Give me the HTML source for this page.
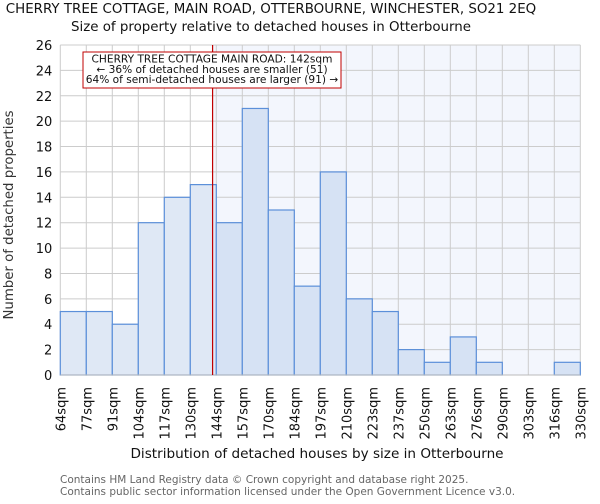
<!DOCTYPE html>
<html><head><meta charset="utf-8"><style>
body{margin:0;background:#fff;font-family:"DejaVu Sans","Liberation Sans",sans-serif}
</style></head><body>
<svg id="c" width="600" height="500" xmlns="http://www.w3.org/2000/svg" font-family="DejaVu Sans, Liberation Sans, sans-serif">
<text x="271" y="13" text-anchor="middle" font-size="13.4" fill="#111">CHERRY TREE COTTAGE, MAIN ROAD, OTTERBOURNE, WINCHESTER, SO21 2EQ</text>
<text x="271" y="31" text-anchor="middle" font-size="13.4" fill="#111">Size of property relative to detached houses in Otterbourne</text>
<g id="plot"></g>
<text x="317" y="458" text-anchor="middle" font-size="13.6" fill="#111">Distribution of detached houses by size in Otterbourne</text>
<text transform="translate(13,215) rotate(-90)" text-anchor="middle" font-size="13.3" fill="#333">Number of detached properties</text>
<text x="60" y="483" font-size="10.5" fill="#666">Contains HM Land Registry data © Crown copyright and database right 2025.</text>
<text x="60" y="495" font-size="10.5" fill="#666">Contains public sector information licensed under the Open Government Licence v3.0.</text>
</svg>
<script>
const binLabels=["64sqm","77sqm","91sqm","104sqm","117sqm","130sqm","144sqm","157sqm","170sqm","184sqm","197sqm","210sqm","223sqm","237sqm","250sqm","263sqm","276sqm","290sqm","303sqm","316sqm","330sqm"];
const binEdges=[64,77,91,104,117,130,144,157,170,184,197,210,223,237,250,263,276,290,303,316,330];
const counts=[5,5,4,12,14,15,12,21,13,7,16,6,5,2,1,3,1,0,0,1];
const yTicks=[0,2,4,6,8,10,12,14,16,18,20,22,24,26];
const subjectSize=142;
const NS="http://www.w3.org/2000/svg";
const L=60.3,R=580.3,T=45,B=375,yMax=26;
const g=document.getElementById('plot');
const bw=(R-L)/counts.length;
const xIdx=i=>L+i*bw;
const xVal=v=>{for(let i=0;i<binEdges.length-1;i++){if(v<=binEdges[i+1])return xIdx(i+(v-binEdges[i])/(binEdges[i+1]-binEdges[i]));}return R;};
const y=v=>B-(v/yMax)*(B-T);
function mk(t,a){const e=document.createElementNS(NS,t);for(const k in a)e.setAttribute(k,a[k]);g.appendChild(e);return e;}
const sx=xVal(subjectSize);
let e=mk('rect',{x:sx,y:T,width:R-sx,height:B-T,fill:'#f3f6fd'});


yTicks.forEach(t=>{let l=mk('line',{x1:L,x2:R,y1:y(t),y2:y(t),stroke:'#cccccc','stroke-width':1});


let tx=mk('text',{x:L-8,y:y(t)+5,'text-anchor':'end','font-size':13,fill:'#111'});tx.textContent=t;

});
binLabels.forEach((s,i)=>{let l=mk('line',{x1:xIdx(i),x2:xIdx(i),y1:T,y2:B,stroke:'#cccccc','stroke-width':1});


let tx=mk('text',{transform:`translate(${xIdx(i)+5},${B+12}) rotate(-90)`,'text-anchor':'end','font-size':13,fill:'#111'});tx.textContent=s;

});
counts.forEach((c,i)=>{if(c<=0)return;const left=xIdx(i)<sx;
let r=mk('rect',{x:xIdx(i),y:y(c),width:bw,height:B-y(c),fill:left?'#dfe8f5':'#d6e2f4',stroke:'#5b8fd9','stroke-width':1.2});

});
let ax=mk('line',{x1:L,x2:R,y1:B,y2:B,stroke:'#bbb','stroke-width':1});


let rl=mk('line',{x1:sx,x2:sx,y1:T,y2:B,stroke:'#c00000','stroke-width':1.2});


let box=mk('rect',{x:83,y:52,width:258,height:36,fill:'#fff',stroke:'#c00000','stroke-width':1});


["CHERRY TREE COTTAGE MAIN ROAD: 142sqm","← 36% of detached houses are smaller (51)","64% of semi-detached houses are larger (91) →"].forEach((s,i)=>{
let tx=mk('text',{x:212,y:62.5+i*10.3,'text-anchor':'middle','font-size':10.6,fill:'#111'});tx.textContent=s;

});
</script>
</body></html>
